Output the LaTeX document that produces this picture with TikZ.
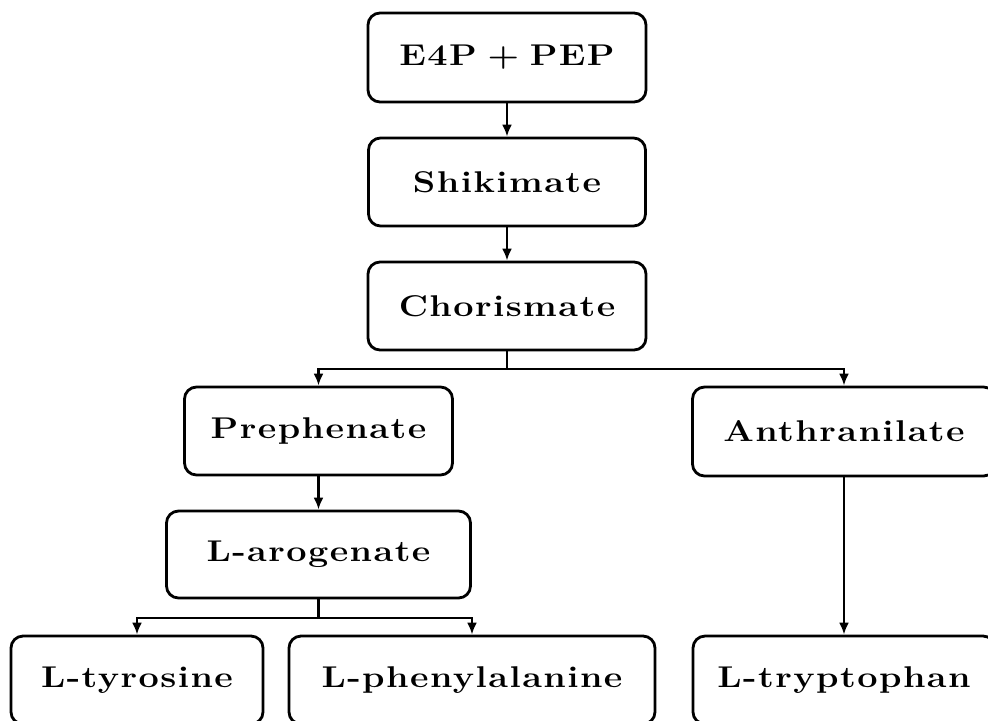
\documentclass[tikz,border=0pt]{standalone}
\usepackage{fontspec}
\setmainfont{Latin Modern Roman}
\usetikzlibrary{arrows.meta,positioning}
\newcommand{\wtxt}[1]{\scalebox{1.2}[1]{#1}}
\begin{document}
\begin{tikzpicture}[x=0.5pt,y=-0.5pt,
  pbox/.style={draw=black,line width=1.4pt,rounded corners=6pt,align=center,inner sep=0pt,
    font=\fontsize{15}{18}\selectfont\bfseries\addfontfeatures{LetterSpace=4}},
  conn/.style={line width=1.4pt,draw=black},
  arr/.style={conn,-{Latex[length=6pt,width=5pt]}}]
\useasboundingbox (0,0) rectangle (988,720);
\clip (0,0) rectangle (988,720);
\node[pbox,minimum width=139pt,minimum height=44.5pt] (e4p) at (507,57.5) {\wtxt{E4P\hspace{0.3em}+\hspace{0.3em}PEP}};
\node[pbox,minimum width=138.5pt,minimum height=44pt] (shik) at (507,182) {\wtxt{Shikimate}};
\node[pbox,minimum width=139pt,minimum height=44pt] (chor) at (507,306) {\wtxt{Chorismate}};
\node[pbox,minimum width=134pt,minimum height=44pt] (preph) at (318.5,431) {\wtxt{Prephenate}};
\node[pbox,minimum width=151.5pt,minimum height=44.5pt] (anth) at (844,431.5) {\wtxt{Anthranilate}};
\node[pbox,minimum width=152pt,minimum height=43.5pt] (arog) at (318.5,554.5) {\wtxt{L-arogenate}};
\node[pbox,minimum width=126pt,minimum height=44pt] (tyr) at (137,680) {\wtxt{L-tyrosine}};
\node[pbox,minimum width=183pt,minimum height=44pt] (phe) at (472,680) {\wtxt{L-phenylalanine}};
\node[pbox,minimum width=151pt,minimum height=44pt] (trp) at (844,680) {\wtxt{L-tryptophan}};
\draw[arr] (e4p.south) -- (shik.north);
\draw[arr] (shik.south) -- (chor.north);
\coordinate (cj) at (507,369);
\coordinate (aj) at (318.5,618);
\draw[conn] (chor.south) -- (cj);
\draw[arr] (cj) -| (preph.north);
\draw[arr] (cj) -| (anth.north);
\draw[arr] (preph.south) -- (arog.north);
\draw[conn] (arog.south) -- (aj);
\draw[arr] (aj) -| (tyr.north);
\draw[arr] (aj) -| (phe.north);
\draw[arr] (anth.south) -- (trp.north);
\end{tikzpicture}
\end{document}
